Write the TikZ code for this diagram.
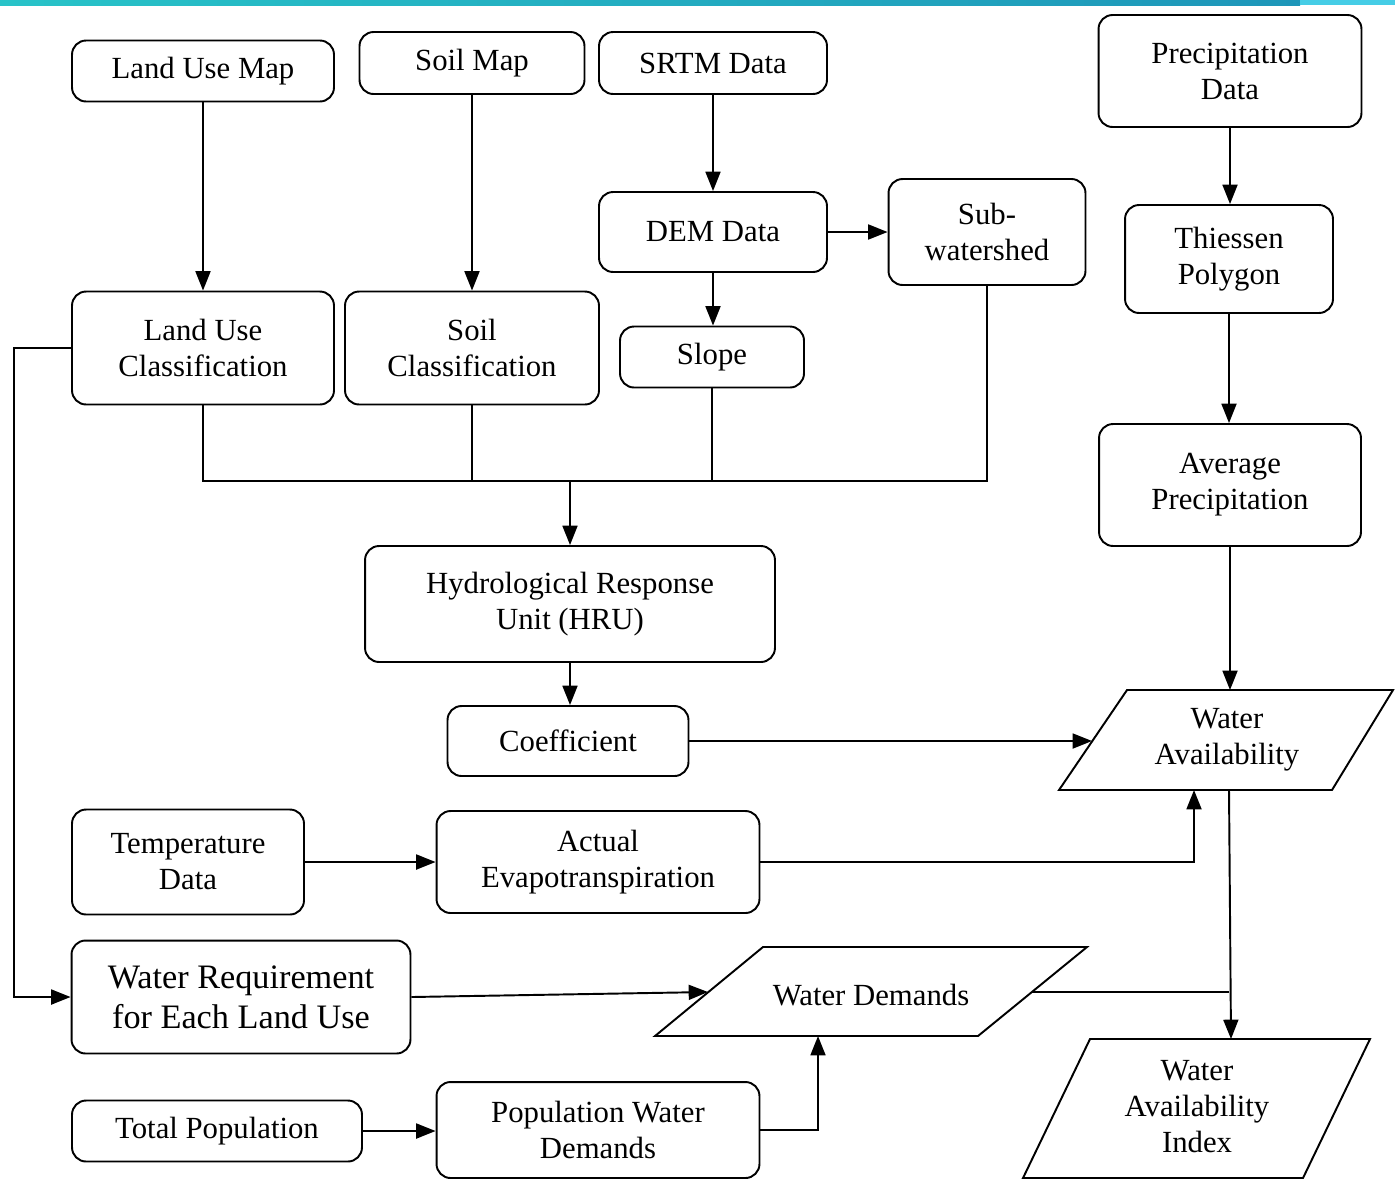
\documentclass[tikz,border=0pt]{standalone}
\usepackage{fontspec}
\setmainfont{Liberation Serif}
\definecolor{barteal}{RGB}{40, 195, 200}
\definecolor{barblue}{RGB}{30, 150, 185}
\definecolor{barcyan}{RGB}{70, 205, 230}
\usetikzlibrary{arrows.meta, positioning, calc}

\begin{document}
\begin{tikzpicture}[x=0.02cm, y=-0.02cm,
  box/.style={draw, line width=1.1pt, rounded corners=8pt, align=center, inner sep=0pt,
    font=\fontsize{17.5}{20.5}\selectfont},
  para/.style={draw, line width=1.1pt, line join=miter},
  label/.style={align=center, inner sep=0pt, font=\fontsize{17.5}{20.5}\selectfont},
  flow/.style={-{Triangle[length=11pt, width=8.5pt]}, line width=1.1pt},
  link/.style={line width=1.1pt}]

  \useasboundingbox (0,0) rectangle (1395,1181);
  % top band
  \shade[left color=barteal, right color=barblue] (0,0) rectangle (1300,5);
  \fill[barcyan] (1300,0) rectangle (1395,5);

  % input data
  \node[box, minimum width=5.24cm, minimum height=1.22cm] (lumap) at (203,71) {Land Use Map};
  \node[box, minimum width=4.5cm, minimum height=1.24cm] (soilmap) at (472,63) {Soil Map};
  \node[box, minimum width=4.56cm, minimum height=1.24cm] (srtm) at (713,63) {SRTM Data};
  \node[box, minimum width=5.26cm, minimum height=2.24cm] (precip) at (1230,71) {Precipitation\\Data};

  % processing
  \node[box, minimum width=4.56cm, minimum height=1.6cm] (dem) at (713,232) {DEM Data};
  \node[box, minimum width=3.94cm, minimum height=2.12cm] (subws) at (987,232) {Sub-\\watershed};
  \node[box, minimum width=4.16cm, minimum height=2.16cm] (thiessen) at (1229,259) {Thiessen\\Polygon};
  \node[box, minimum width=5.24cm, minimum height=2.26cm] (luclass) at (203,348) {Land Use\\Classification};
  \node[box, minimum width=5.08cm, minimum height=2.26cm] (soilclass) at (472,348) {Soil\\Classification};
  \node[box, minimum width=3.68cm, minimum height=1.22cm] (slope) at (712,357) {Slope};
  \node[box, minimum width=5.24cm, minimum height=2.44cm] (avgprecip) at (1230,485) {Average\\Precipitation};
  \node[box, minimum width=8.2cm, minimum height=2.32cm] (hru) at (570,604) {Hydrological Response\\Unit (HRU)};
  \node[box, minimum width=4.82cm, minimum height=1.4cm] (coef) at (568,741) {Coefficient};
  \node[box, minimum width=4.64cm, minimum height=2.1cm] (temp) at (188,862) {Temperature\\Data};
  \node[box, minimum width=6.46cm, minimum height=2.04cm] (aet) at (598,862) {Actual\\Evapotranspiration};
  \node[box, minimum width=6.78cm, minimum height=2.26cm, font=\fontsize{19.5}{22.8}\selectfont] (wreq) at (241,997) {Water Requirement\\for Each Land Use};
  \node[box, minimum width=5.8cm, minimum height=1.22cm] (totpop) at (217,1131) {Total Population};
  \node[box, minimum width=6.46cm, minimum height=1.92cm] (popwd) at (598,1130) {Population Water\\Demands};

  % outputs (parallelograms)
  \draw[para] (1127,690) -- (1393,690) -- (1332,790) -- (1059,790) -- cycle;
  \node[label] (wa) at (1227,740) {Water\\Availability};
  \draw[para] (763,947) -- (1087,947) -- (978,1036) -- (655,1036) -- cycle;
  \node[label] (wd) at (871,995) {Water Demands};
  \draw[para] (1090,1039) -- (1370,1039) -- (1303,1178) -- (1023,1178) -- cycle;
  \node[label] (wai) at (1197,1107) {Water\\Availability\\Index};

  \coordinate (wa-top) at (1229,690);
  \coordinate (wa-in) at (1092,741);
  \coordinate (wa-bot) at (1194,790);
  \coordinate (wa-out) at (1229,790);
  \coordinate (wd-in) at (708,992);
  \coordinate (wd-bot) at (818,1036);
  \coordinate (wd-out) at (1032,992);
  \coordinate (wai-top) at (1231,1039);
  \coordinate (bus) at (570,481);

  % connectors
  \draw[flow] (lumap) -- (luclass);
  \draw[flow] (soilmap.south) -- (soilmap.south |- soilclass.north);
  \draw[flow] (srtm) -- (dem);
  \draw[flow] (dem) -- (subws);
  \draw[flow] (dem.south) -- (dem.south |- slope.north);
  \draw[flow] (precip.south) -- (precip.south |- thiessen.north);
  \draw[flow] (thiessen.south) -- (thiessen.south |- avgprecip.north);
  \draw[flow] (avgprecip.south) -- (avgprecip.south |- wa-top);

  \draw[link] (luclass.south) -- (luclass.south |- bus) -- (subws.south |- bus) -- (subws.south);
  \draw[link] (soilclass.south) -- (soilclass.south |- bus);
  \draw[link] (slope.south) -- (slope.south |- bus);
  \draw[flow] (bus) -- (hru);
  \draw[flow] (hru.south) -- (hru.south |- coef.north);

  \draw[flow] (coef) -- (wa-in);
  \draw[flow] (temp) -- (aet);
  \draw[flow] (aet.east) -| (wa-bot);
  \draw[flow] (luclass.west) -- ++(-57,0) |- (wreq.west);
  \draw[flow] (wreq.east) -- (wd-in);
  \draw[flow] (totpop.east) -- (totpop.east -| popwd.west);
  \draw[flow] (popwd.east) -| (wd-bot);
  \draw[link] (wd-out) -- (wd-out -| wa-out);
  \draw[flow] (wa-out) -- (wai-top);
\end{tikzpicture}
\end{document}
